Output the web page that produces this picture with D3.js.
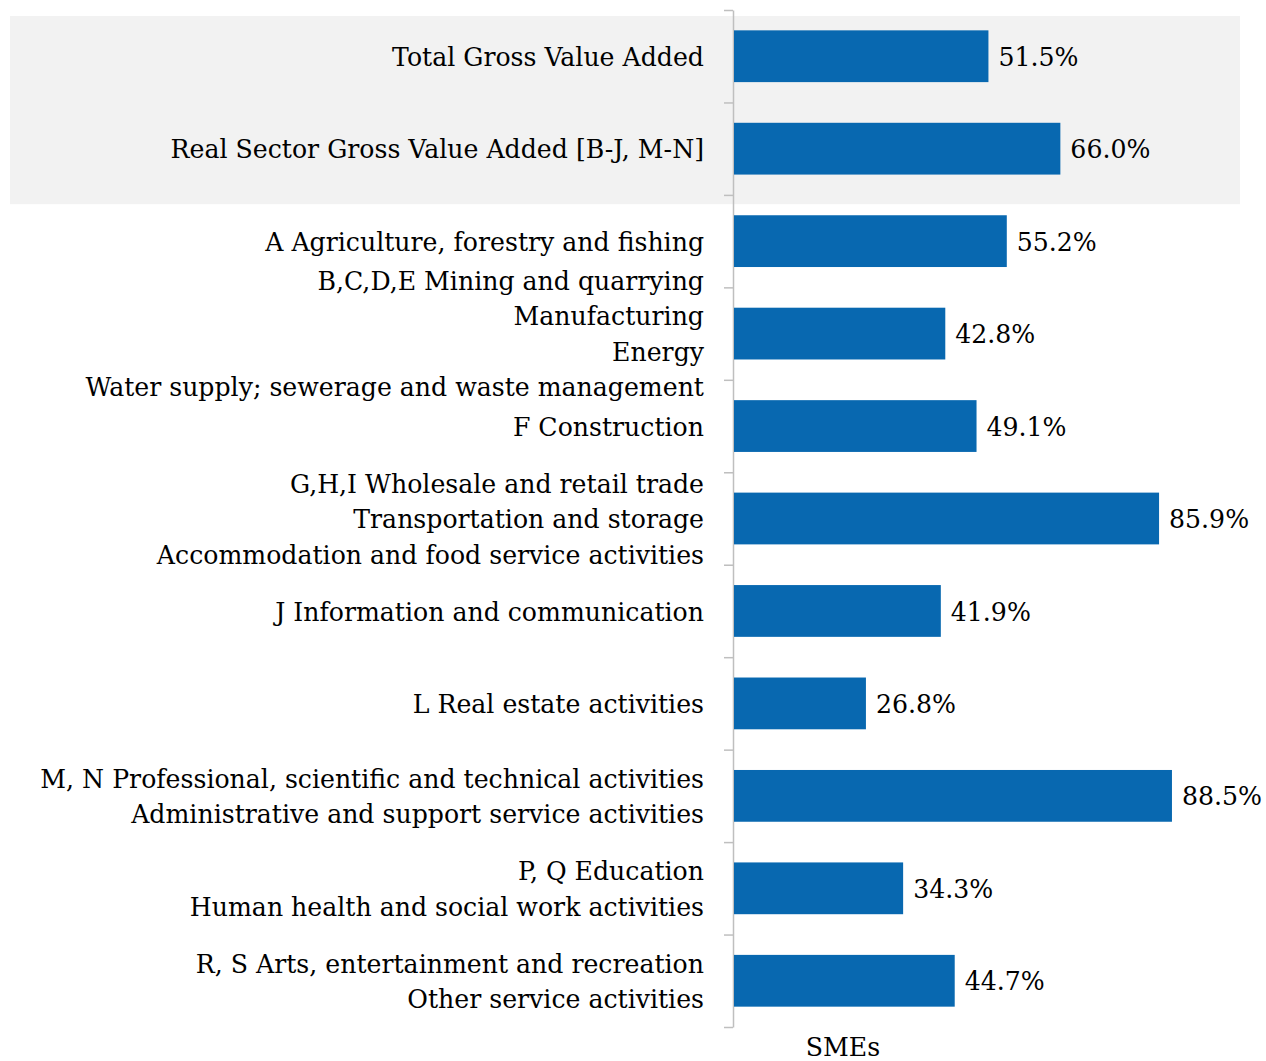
<!DOCTYPE html>
<html>
<head>
<meta charset="utf-8">
<script src="https://cdn.jsdelivr.net/npm/d3@7"></script>
<style>
  html, body { margin: 0; padding: 0; background: #ffffff; }
  svg text { font-family: "DejaVu Serif", "Liberation Serif", serif; fill: #000; }
</style>
</head>
<body>
<svg id="chart" width="1266" height="1061"></svg>
<script>
// SME share of gross value added by sector
const categories = ["TGVA", "RSGVA", "A", "BCDE", "F", "GHI", "J", "L", "MN", "PQ", "RS"];
const labelLines = [
  ["Total Gross Value Added"],
  ["Real Sector Gross Value Added [B-J, M-N]"],
  ["A Agriculture, forestry and fishing"],
  ["B,C,D,E Mining and quarrying", "Manufacturing", "Energy", "Water supply; sewerage and waste management"],
  ["F Construction"],
  ["G,H,I Wholesale and retail trade", "Transportation and storage", "Accommodation and food service activities"],
  ["J Information and communication"],
  ["L Real estate activities"],
  ["M, N Professional, scientific and technical activities", "Administrative and support service activities"],
  ["P, Q Education", "Human health and social work activities"],
  ["R, S Arts, entertainment and recreation", "Other service activities"]
];
const values = [51.5, 66.0, 55.2, 42.8, 49.1, 85.9, 41.9, 26.8, 88.5, 34.3, 44.7];
const seriesName = "SMEs";

const svg = d3.select("#chart");
const axisX = 733, plotTop = 10, plotBottom = 1027;
const fontSize = 25.2;

const x = d3.scaleLinear().domain([0, 100]).range([axisX, axisX + 496]);
const y = d3.scaleBand().domain(categories).range([plotTop, plotBottom])
  .paddingInner(0.44).paddingOuter(0.22);
const yIdx = d3.scaleLinear().domain([0, categories.length]).range([plotTop, plotBottom]);

// shaded panel behind the aggregate rows
svg.append("rect")
  .attr("x", 10).attr("width", 1230)
  .attr("y", yIdx(0.065)).attr("height", yIdx(2.1) - yIdx(0.065))
  .attr("fill", "#f2f2f2");

// category axis with ticks at band boundaries
const axis = d3.axisLeft(yIdx)
  .tickValues(d3.range(0, categories.length + 1))
  .tickSize(9).tickSizeOuter(0).tickFormat("");
const ag = svg.append("g").attr("transform", `translate(${axisX},0)`).call(axis);
ag.select(".domain").attr("stroke", "#bfbfbf").attr("stroke-width", 1.5);
ag.selectAll(".tick line").attr("stroke", "#bfbfbf").attr("stroke-width", 1.5);

// bars
svg.append("g").selectAll("rect").data(categories).join("rect")
  .attr("x", x(0) + 1)
  .attr("y", d => y(d))
  .attr("width", (d, i) => x(values[i]) - x(0) - 1)
  .attr("height", y.bandwidth())
  .attr("fill", "#0868b0");

// value labels
svg.append("g").selectAll("text").data(categories).join("text")
  .attr("x", (d, i) => x(values[i]) + 10)
  .attr("y", d => y(d) + y.bandwidth() / 2)
  .attr("dy", "0.38em")
  .attr("font-size", fontSize)
  .text((d, i) => values[i].toFixed(1) + "%");

// category labels (multi-line, right aligned)
const lineH = 35.5;
const lg = svg.append("g");
categories.forEach((c, i) => {
  const lines = labelLines[i];
  const cy = y(c) + y.bandwidth() / 2;
  const t = lg.append("text")
    .attr("text-anchor", "end")
    .attr("font-size", fontSize)
    .attr("y", cy - (lines.length - 1) * lineH / 2);
  lines.forEach((ln, k) => {
    t.append("tspan").attr("x", 704).attr("dy", k === 0 ? "0.38em" : lineH).text(ln);
  });
});

// series name under the bars
svg.append("text")
  .attr("x", 843).attr("y", 1056)
  .attr("text-anchor", "middle")
  .attr("font-size", fontSize)
  .text(seriesName);
</script>
</body>
</html>
